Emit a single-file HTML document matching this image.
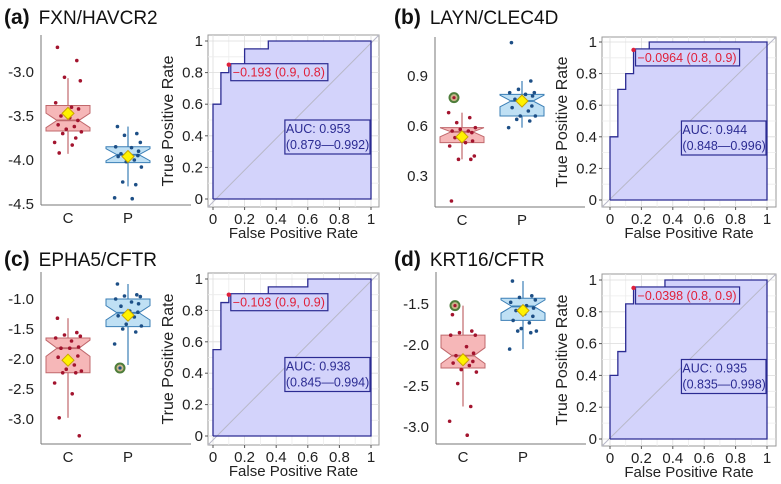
<!DOCTYPE html>
<html><head><meta charset="utf-8"><style>
body{margin:0;background:#fff}
svg{display:block;font-family:"Liberation Sans",sans-serif}
</style></head><body>
<svg id="s" width="781" height="484" viewBox="0 0 781 484"></svg>
<script>
// ---------- data ----------
const groups = ["C","P"];
// box stats: [lowWhisker, Q1, median, Q3, highWhisker, mean]
const boxA_C = [-3.93,-3.67,-3.55,-3.38,-3.07,-3.47];
const boxA_P = [-4.30,-4.03,-3.94,-3.85,-3.62,-3.96];
const ptsA_C = [-2.72,-2.87,-3.06,-3.10,-3.35,-3.40,-3.42,-3.50,-3.52,-3.55,-3.60,-3.62,-3.65,-3.68,-3.70,-3.75,-3.80,-3.83,-3.92];
const ptsA_P = [-3.62,-3.70,-3.72,-3.80,-3.85,-3.86,-3.90,-3.93,-3.94,-3.95,-3.96,-4.00,-4.02,-4.08,-4.25,-4.28,-4.43,-4.44];
const outA_C = []; const outA_P = [];
const boxB_C = [0.40,0.50,0.565,0.59,0.68,0.535];
const boxB_P = [0.59,0.66,0.75,0.79,0.87,0.75];
const ptsB_C = [0.15,0.40,0.40,0.42,0.48,0.50,0.51,0.53,0.55,0.56,0.57,0.57,0.58,0.59,0.62,0.65,0.68];
const ptsB_P = [1.10,0.87,0.82,0.80,0.80,0.79,0.78,0.76,0.74,0.72,0.71,0.69,0.66,0.66,0.64,0.63,0.59];
const outB_C = [0.77]; const outB_P = [];
const boxC_C = [-2.98,-2.23,-1.82,-1.65,-1.32,-2.02];
const boxC_P = [-2.10,-1.46,-1.23,-1.00,-0.75,-1.27];
const ptsC_C = [-1.32,-1.56,-1.60,-1.62,-1.65,-1.70,-1.80,-1.82,-1.82,-1.95,-1.97,-2.10,-2.17,-2.20,-2.23,-2.23,-2.40,-2.58,-2.98,-3.28];
const ptsC_P = [-0.75,-0.93,-0.95,-0.96,-1.00,-1.05,-1.08,-1.12,-1.20,-1.22,-1.28,-1.30,-1.42,-1.45,-1.50,-1.55,-1.75];
const outC_C = []; const outC_P = [-2.15];
const boxD_C = [-2.75,-2.28,-2.13,-1.88,-1.52,-2.18];
const boxD_P = [-2.05,-1.70,-1.53,-1.43,-1.22,-1.58];
const ptsD_C = [-1.63,-1.83,-1.85,-1.88,-1.88,-2.02,-2.10,-2.13,-2.15,-2.20,-2.22,-2.25,-2.30,-2.33,-2.47,-2.75,-2.93,-3.10];
const ptsD_P = [-1.22,-1.40,-1.42,-1.45,-1.48,-1.52,-1.55,-1.58,-1.62,-1.65,-1.70,-1.73,-1.80,-1.83,-1.83,-1.85,-2.05];
const outD_C = [-1.52]; const outD_P = [];
const jitter = [-0.3,0.25,-0.1,0.35,-0.35,0.1,0.3,-0.2,0.05,0.28,-0.28,0.18,-0.05,0.38,-0.15,0.22,-0.38,0.12,-0.25,0.32];

const rocA_fpr = [0,0,0.05,0.05,0.1,0.1,0.2,0.2,0.35,0.35,1];
const rocA_tpr = [0,0.6,0.6,0.8,0.8,0.85,0.85,0.95,0.95,1,1];
const rocB_fpr = [0,0,0.05,0.05,0.1,0.1,0.15,0.15,0.25,0.25,1];
const rocB_tpr = [0,0.4,0.4,0.7,0.7,0.8,0.8,0.95,0.95,1,1];
const rocC_fpr = [0,0,0.05,0.05,0.1,0.1,0.35,0.35,0.6,0.6,1];
const rocC_tpr = [0,0.55,0.55,0.85,0.85,0.9,0.9,0.95,0.95,1,1];
const rocD_fpr = [0,0,0.05,0.05,0.1,0.1,0.15,0.15,0.35,0.35,1];
const rocD_tpr = [0,0.4,0.4,0.55,0.55,0.85,0.85,0.95,0.95,1,1];
const cutA = [0.1,0.85]; const cutB = [0.15,0.95]; const cutC = [0.1,0.9]; const cutD = [0.15,0.95];
const cutLabels = ["\u22120.193 (0.9, 0.8)","\u22120.0964 (0.8, 0.9)","\u22120.103 (0.9, 0.9)","\u22120.0398 (0.8, 0.9)"];
const aucLabels = [["AUC: 0.953","(0.879\u20140.992)"],["AUC: 0.944","(0.848\u20140.996)"],["AUC: 0.938","(0.845\u20140.994)"],["AUC: 0.935","(0.835\u20140.998)"]];
const titles = [["(a)","FXN/HAVCR2"],["(b)","LAYN/CLEC4D"],["(c)","EPHA5/CFTR"],["(d)","KRT16/CFTR"]];
const ticksA = [-3.0,-3.5,-4.0,-4.5];
const ticksB = [0.9,0.6,0.3];
const ticksC = [-1.0,-1.5,-2.0,-2.5,-3.0];
const ticksD = [-1.5,-2.0,-2.5,-3.0];
const rocTicks = [0,0.2,0.4,0.6,0.8,1];
const rocTickLabels = ["0","0.2","0.4","0.6","0.8","1"];

// ---------- drawing ----------
const S = document.getElementById('s');
const NS = "http://www.w3.org/2000/svg";
function el(tag, attrs, parent, text){
  const e = document.createElementNS(NS, tag);
  for (const k in attrs) e.setAttribute(k, attrs[k]);
  if (text !== undefined) e.textContent = text;
  (parent||S).appendChild(e);
  return e;
}

function boxPanel(name, ox, axY0, axY1, v0, y0px, v1, y1px, ticks, stats, pts, outs){
  const g = el('g', {}, S);
  
  
  const y = v => y0px + (v - v0) * (y1px - y0px) / (v1 - v0);
  const cx = [ox + 27, ox + 87];
  el('line',{x1:ox,y1:axY0,x2:ox,y2:axY1,stroke:'#777','stroke-width':1},g);
  el('line',{x1:ox,y1:axY1,x2:ox+150,y2:axY1,stroke:'#777','stroke-width':1},g);
  ticks.forEach(t=>{
    const tl = el('text',{x:ox-7,y:y(t)+5,'text-anchor':'end','font-size':15,fill:'#222'},g,t.toFixed(1));
    
    
  });
  const fills = ['#f6b7b8','#bfe0f4'], strokes = ['#c0686c','#3b7fb6'], pc = ['#a3142e','#1d4f86'];
  groups.forEach((gname,i)=>{
    const st = stats[i], c = cx[i], hw = 22;
    const lab = el('text',{x:c,y:axY1+18,'text-anchor':'middle','font-size':15,fill:'#222'},g,gname);
    
    
    el('line',{x1:c,y1:y(st[0]),x2:c,y2:y(st[4]),stroke:strokes[i],'stroke-width':1.2},g);
    const nd = 0.13*(st[3]-st[1]) + 0.03*Math.abs(v1-v0);
    const nlo = Math.max(st[1], st[2]-nd), nhi = Math.min(st[3], st[2]+nd);
    const p = [[c-hw,y(st[3])],[c+hw,y(st[3])],[c+hw,y(nhi)],[c+hw/2,y(st[2])],[c+hw,y(nlo)],[c+hw,y(st[1])],
               [c-hw,y(st[1])],[c-hw,y(nlo)],[c-hw/2,y(st[2])],[c-hw,y(nhi)]];
    const bx = el('polygon',{points:p.map(q=>q.join(',')).join(' '),fill:fills[i],stroke:strokes[i],'stroke-width':1},g);
    
    
    el('line',{x1:c-hw/2,y1:y(st[2]),x2:c+hw/2,y2:y(st[2]),stroke:strokes[i],'stroke-width':1.8},g);
    pts[i].forEach((v,k)=>{
      const d = el('circle',{cx:c+jitter[k%jitter.length]*hw*1.6,cy:y(v),r:1.8,fill:pc[i]},g);
      
      
    });
    outs[i].forEach(v=>{
      const o = el('circle',{cx:c-8,cy:y(v),r:4.5,fill:'#c9b58a',stroke:'#4d7d3a','stroke-width':2},g);
      
      
      el('circle',{cx:c-8,cy:y(v),r:1.6,fill:pc[i]},g);
    });
    const m = y(st[5]);
    const dm = el('polygon',{points:`${c},${m-6} ${c+6},${m} ${c},${m+6} ${c-6},${m}`,fill:'#fff200',stroke:'#c9a400','stroke-width':1},g);
    
    
  });
}

function rocPanel(name, bx0, by0, bx1, by1, x0, x1, yb, yt, fpr, tpr, cut, cutLabel, auc, ytitleX){
  const g = el('g', {}, S);
  
  
  const X = f => x0 + f*(x1-x0), Y = t => yb - t*(yb-yt);
  el('rect',{x:bx0,y:by0,width:bx1-bx0,height:by1-by0,fill:'#fff',stroke:'#999','stroke-width':1},g);
  for (let k=0;k<=10;k++){
    const v=k/10, w = k%2===0 ? '#dcdcdc' : '#ececec';
    el('line',{x1:X(v),y1:by0,x2:X(v),y2:by1,stroke:w,'stroke-width':0.8},g);
    el('line',{x1:bx0,y1:Y(v),x2:bx1,y2:Y(v),stroke:w,'stroke-width':0.8},g);
  }
  let pts = fpr.map((f,i)=>X(f)+','+Y(tpr[i]));
  const area = el('polygon',{points:pts.join(' ')+' '+X(1)+','+Y(0),fill:'#d3d3fb',stroke:'none'},g);
  
  
  el('line',{x1:bx0,y1:by1,x2:bx1,y2:by0,stroke:'#b8b8c8','stroke-width':1},g);
  const line = el('polyline',{points:pts.join(' ')+' '+X(1)+','+Y(0)+' '+X(0)+','+Y(0),fill:'none',stroke:'#2b2b92','stroke-width':1.3},g);
  
  
  rocTicks.forEach((t,i)=>{
    el('line',{x1:X(t),y1:by1,x2:X(t),y2:by1+3,stroke:'#555'},g);
    el('line',{x1:bx0-3,y1:Y(t),x2:bx0,y2:Y(t),stroke:'#555'},g);
    const xl = el('text',{x:X(t),y:by1+17,'text-anchor':'middle','font-size':15,fill:'#222'},g,rocTickLabels[i]);
    
    
    const yl = el('text',{x:bx0-5,y:Y(t)+5,'text-anchor':'end','font-size':15,fill:'#222'},g,rocTickLabels[i]);
    
    
  });
  const xt = el('text',{x:(bx0+bx1)/2,y:by1+31,'text-anchor':'middle','font-size':15,fill:'#222'},g,'False Positive Rate');
  
  
  const ym = (by0+by1)/2;
  const yt2 = el('text',{x:ytitleX,y:ym,'text-anchor':'middle','font-size':16,fill:'#222',transform:`rotate(-90 ${ytitleX} ${ym})`},g,'True Positive Rate');
  
  
  const cxp = X(cut[0]), cyp = Y(cut[1]);
  const lb = el('rect',{x:cxp+2,y:cyp-1,width:95,height:17,fill:'#d3d3fb',stroke:'#2b2b92','stroke-width':1.2},g);
  
  
  const lt = el('text',{x:cxp+4,y:cyp+12,'font-size':12.5,fill:'#e0203a'},g,cutLabel);
  
  
  lb.setAttribute('width', lt.getComputedTextLength()+5);
  const cp = el('circle',{cx:cxp,cy:cyp,r:2.2,fill:'#e0203a'},g);
  
  
  const ax = X(0.455), ay = Y(0.5);
  const ab = el('rect',{x:ax,y:ay,width:X(1)-ax-1,height:34,fill:'#d3d3fb',stroke:'#2b2b92','stroke-width':1.2},g);
  
  
  const a1 = el('text',{x:ax+1,y:ay+13,'font-size':12.5,fill:'#2b2b92'},g,auc[0]);
  
  
  const a2 = el('text',{x:ax+1,y:ay+29,'font-size':12.5,fill:'#2b2b92'},g,auc[1]);
  
  
}

function title(i, x, y){
  const t = el('text',{x:x,y:y,'font-size':21,fill:'#111'},S);
  
  
  el('tspan',{'font-weight':'bold'},t,titles[i][0]);
  el('tspan',{dx:9,'font-size':19},t,titles[i][1]);
}

title(0,4,24); title(1,394,24); title(2,4,266); title(3,394,266);

boxPanel('panel-a',41,35,205,-3.0,72,-4.5,204,ticksA,[boxA_C,boxA_P],[ptsA_C,ptsA_P],[outA_C,outA_P]);
boxPanel('panel-b',435,37,207,0.9,76,0.3,176,ticksB,[boxB_C,boxB_P],[ptsB_C,ptsB_P],[outB_C,outB_P]);
boxPanel('panel-c',41,272,444,-1.0,299,-3.0,419,ticksC,[boxC_C,boxC_P],[ptsC_C,ptsC_P],[outC_C,outC_P]);
boxPanel('panel-d',436,272,444,-1.5,304,-3.0,427,ticksD,[boxD_C,boxD_P],[ptsD_C,ptsD_P],[outD_C,outD_P]);

rocPanel('panel-a',208,35,379,207,213,371,199,41,rocA_fpr,rocA_tpr,cutA,cutLabels[0],aucLabels[0],173);
rocPanel('panel-b',602,37,776,207,610,767,200,42,rocB_fpr,rocB_tpr,cutB,cutLabels[1],aucLabels[1],567);
rocPanel('panel-c',208,273,379,445,213,371,436,279,rocC_fpr,rocC_tpr,cutC,cutLabels[2],aucLabels[2],173);
rocPanel('panel-d',602,274,776,446,610,767,439,280,rocD_fpr,rocD_tpr,cutD,cutLabels[3],aucLabels[3],567);
</script>
</body></html>
